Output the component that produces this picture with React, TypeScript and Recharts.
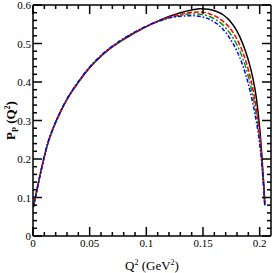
import React from "react";
import { LineChart, Line, XAxis, YAxis, Label } from "recharts";

// Q^2 grid (GeV^2) shared by all curves
const qSquared = [
  0.0003, 0.003, 0.006, 0.009, 0.013, 0.018, 0.024, 0.03, 0.04, 0.05, 0.06, 0.07, 0.08, 0.09,
  0.1, 0.11, 0.12, 0.13, 0.14, 0.148, 0.155, 0.162, 0.168, 0.174, 0.18, 0.185, 0.19, 0.194,
  0.197, 0.199, 0.2005, 0.2018, 0.203, 0.204, 0.2045,
];
const pBlack = [
  0.075, 0.113, 0.155, 0.194, 0.24, 0.281, 0.321, 0.355, 0.399, 0.437, 0.467, 0.491, 0.511, 0.528,
  0.544, 0.558, 0.57, 0.58, 0.587, 0.59, 0.589, 0.583, 0.574, 0.558, 0.532, 0.5, 0.457, 0.41,
  0.36, 0.31, 0.265, 0.215, 0.16, 0.115, 0.08,
];
const pRed = [
  0.075, 0.113, 0.155, 0.194, 0.24, 0.281, 0.321, 0.355, 0.4, 0.438, 0.468, 0.492, 0.512, 0.529,
  0.544, 0.557, 0.568, 0.576, 0.581, 0.582, 0.578, 0.569, 0.557, 0.539, 0.511, 0.478, 0.432, 0.382,
  0.332, 0.29, 0.248, 0.203, 0.153, 0.112, 0.08,
];
const pGreen = [
  0.075, 0.113, 0.155, 0.194, 0.24, 0.281, 0.321, 0.355, 0.4, 0.438, 0.468, 0.492, 0.512, 0.529,
  0.544, 0.557, 0.567, 0.573, 0.577, 0.576, 0.571, 0.561, 0.547, 0.526, 0.496, 0.462, 0.415, 0.364,
  0.316, 0.276, 0.238, 0.196, 0.149, 0.11, 0.08,
];
const pBlue = [
  0.075, 0.113, 0.155, 0.194, 0.241, 0.282, 0.322, 0.356, 0.401, 0.439, 0.469, 0.493, 0.513, 0.53,
  0.545, 0.557, 0.566, 0.571, 0.572, 0.57, 0.564, 0.552, 0.536, 0.512, 0.48, 0.444, 0.395, 0.344,
  0.298, 0.262, 0.227, 0.19, 0.145, 0.108, 0.08,
];

const xTicks = [
  0, 0.01, 0.02, 0.03, 0.04, 0.05, 0.06, 0.07, 0.08, 0.09, 0.1, 0.11, 0.12, 0.13, 0.14, 0.15,
  0.16, 0.17, 0.18, 0.19, 0.2,
];
const xMajorTicks = [0, 0.05, 0.1, 0.15, 0.2];
const xTickLabels = ["0", "0.05", "0.1", "0.15", "0.2"];
const yTicks = [
  0, 0.02, 0.04, 0.06, 0.08, 0.1, 0.12, 0.14, 0.16, 0.18, 0.2, 0.22, 0.24, 0.26, 0.28, 0.3, 0.32,
  0.34, 0.36, 0.38, 0.4, 0.42, 0.44, 0.46, 0.48, 0.5, 0.52, 0.54, 0.56, 0.58, 0.6,
];
const yMajorTicks = [0, 0.1, 0.2, 0.3, 0.4, 0.5, 0.6];
const yTickLabels = ["0", "0.1", "0.2", "0.3", "0.4", "0.5", "0.6"];

const rows = qSquared.map((q, i) => ({
  q,
  black: pBlack[i],
  red: pRed[i],
  green: pGreen[i],
  blue: pBlue[i],
}));

const FONT = "'Liberation Serif', 'DejaVu Serif', serif";
const X_MAX = 0.21;
const Y_MAX = 0.6;
const W = 273;
const H = 273;
const M = { top: 5, right: 2, left: 0, bottom: 0 };
const Y_AXIS_W = 33;
const X_AXIS_H = 37;
const PLOT_W = W - M.left - M.right - Y_AXIS_W;
const PLOT_H = H - M.top - M.bottom - X_AXIS_H;
const MAJOR = 9;
const MINOR = 4;

const majorIndex = (list: number[], v: number) =>
  list.findIndex((m) => Math.abs(m - v) < 1e-6);

const BottomLabel = (props: any) => {
  const { x, y, payload } = props;
  const i = majorIndex(xMajorTicks, payload.value);
  if (i < 0) return null;
  return (
    <text x={x} y={y + 11} textAnchor="middle" fontFamily={FONT} fontSize={11} fill="#000">
      {xTickLabels[i]}
    </text>
  );
};

const LeftLabel = (props: any) => {
  const { x, y, payload } = props;
  const i = majorIndex(yMajorTicks, payload.value);
  if (i < 0) return null;
  return (
    <text x={x - 2} y={y + 4} textAnchor="end" fontFamily={FONT} fontSize={11} fill="#000">
      {yTickLabels[i]}
    </text>
  );
};

// X title + inward tick marks along bottom and top edges
const XTitle = (props: any) => {
  const { viewBox } = props;
  const left = viewBox.x;
  const bottom = viewBox.y;
  const top = bottom - PLOT_H;
  const cx = left + viewBox.width / 2;
  return (
    <g>
      {xTicks.map((v) => {
        const px = left + (v / X_MAX) * viewBox.width;
        const len = majorIndex(xMajorTicks, v) >= 0 ? MAJOR : MINOR;
        return (
          <g key={`xt${v}`}>
            <rect x={px - 0.75} y={bottom - len} width={1.5} height={len} fill="#000" />
            <rect x={px - 0.75} y={top} width={1.5} height={len} fill="#000" />
          </g>
        );
      })}
      <rect x={left} y={top - 0.75} width={viewBox.width} height={1.5} fill="#000" />
      <text x={cx} y={bottom + 34} textAnchor="middle" fontFamily={FONT} fontSize={13} fill="#000">
        <tspan>Q</tspan>
        <tspan dy={-5} fontSize={8}>2</tspan>
        <tspan dy={5}> (GeV</tspan>
        <tspan dy={-5} fontSize={8}>2</tspan>
        <tspan dy={5}>)</tspan>
      </text>
    </g>
  );
};

// Y title + inward tick marks along left and right edges
const YTitle = (props: any) => {
  const { viewBox } = props;
  const left = viewBox.x + viewBox.width;
  const right = left + PLOT_W;
  const top = viewBox.y;
  const cx = viewBox.x + 15;
  const cy = viewBox.y + viewBox.height / 2;
  return (
    <g>
      {yTicks.map((v) => {
        const py = top + (1 - v / Y_MAX) * viewBox.height;
        const len = majorIndex(yMajorTicks, v) >= 0 ? MAJOR : MINOR;
        return (
          <g key={`yt${v}`}>
            <rect x={left} y={py - 0.75} width={len} height={1.5} fill="#000" />
            <rect x={right - len} y={py - 0.75} width={len} height={1.5} fill="#000" />
          </g>
        );
      })}
      <rect x={right - 0.75} y={top} width={1.5} height={viewBox.height} fill="#000" />
      <text
        x={cx}
        y={cy}
        transform={`rotate(-90 ${cx} ${cy})`}
        textAnchor="middle"
        fontFamily={FONT}
        fontSize={13}
        fontWeight="bold"
        fill="#000"
      >
        <tspan>P</tspan>
        <tspan dy={3} fontSize={8}>P</tspan>
        <tspan dy={-3}> (Q</tspan>
        <tspan dy={-5} fontSize={8}>2</tspan>
        <tspan dy={5}>)</tspan>
      </text>
    </g>
  );
};

export default function App() {
  return (
    <div style={{ position: "absolute", left: 0, top: 0, width: W, height: H, background: "#fff" }}>
      <LineChart width={W} height={H} data={rows} margin={M}>
        <XAxis
          dataKey="q"
          type="number"
          domain={[0, X_MAX]}
          allowDataOverflow
          ticks={xMajorTicks}
          interval={0}
          tickSize={0}
          tickMargin={0}
          tickLine={false}
          tick={<BottomLabel />}
          axisLine={{ stroke: "#000", strokeWidth: 1.5 }}
          height={X_AXIS_H}
        >
          <Label content={<XTitle />} />
        </XAxis>
        <YAxis
          type="number"
          domain={[0, Y_MAX]}
          allowDataOverflow
          ticks={yMajorTicks}
          interval={0}
          tickSize={0}
          tickMargin={0}
          tickLine={false}
          tick={<LeftLabel />}
          axisLine={{ stroke: "#000", strokeWidth: 1.5 }}
          width={Y_AXIS_W}
        >
          <Label content={<YTitle />} />
        </YAxis>
        <Line type="monotone" dataKey="black" stroke="#000000" strokeWidth={1.5} dot={false} isAnimationActive={false} />
        <Line type="monotone" dataKey="green" stroke="#00a000" strokeWidth={1.5} strokeDasharray="6 2 2 2" dot={false} isAnimationActive={false} />
        <Line type="monotone" dataKey="red" stroke="#ff0000" strokeWidth={1.5} strokeDasharray="5 2" dot={false} isAnimationActive={false} />
        <Line type="monotone" dataKey="blue" stroke="#0000ff" strokeWidth={1.5} strokeDasharray="4 2 1.5 2" dot={false} isAnimationActive={false} />
      </LineChart>
    </div>
  );
}
